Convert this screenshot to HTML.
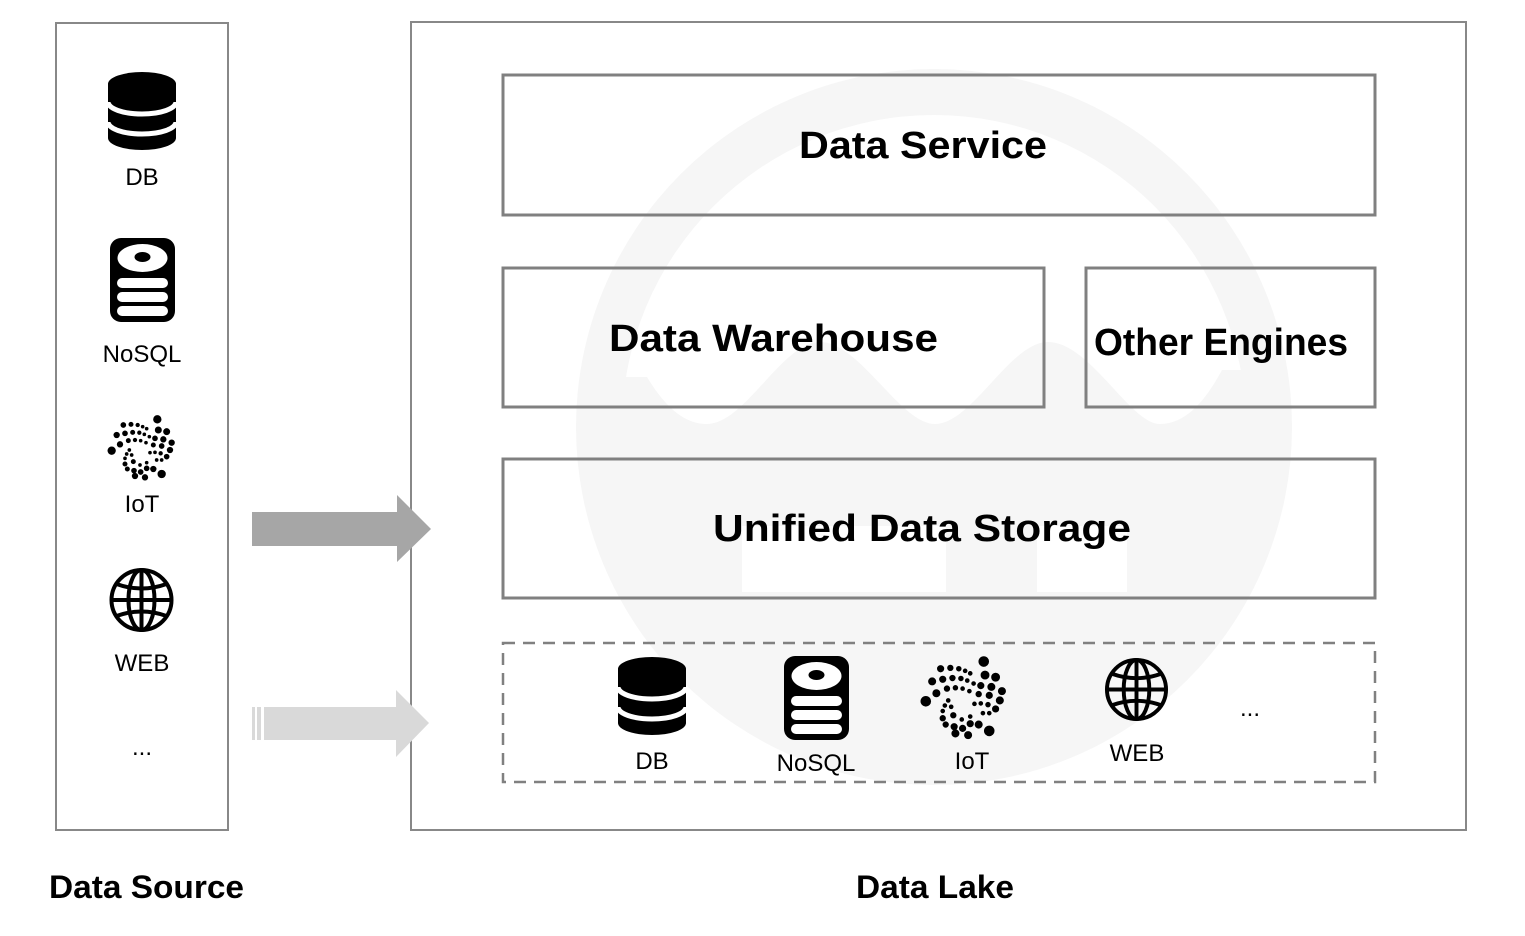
<!DOCTYPE html>
<html><head><meta charset="utf-8"><style>html,body{margin:0;padding:0;background:#fff}svg{display:block}</style></head>
<body>
<svg width="1525" height="936" viewBox="0 0 1525 936" xmlns="http://www.w3.org/2000/svg">
<defs>
<symbol id="db" viewBox="0 0 68 78">
<path d="M0,12 A34,12 0 0 1 68,12 V66 A34,12 0 0 1 0,66 Z" fill="#000"/>
<path d="M0,30 A34,12 0 0 0 68,30" stroke="#fff" stroke-width="5" fill="none"/>
<path d="M0,50 A34,12 0 0 0 68,50" stroke="#fff" stroke-width="5" fill="none"/>
</symbol>
<symbol id="nosql" viewBox="0 0 65 84">
<rect x="0" y="0" width="65" height="84" rx="11" fill="#000"/>
<ellipse cx="32.5" cy="20" rx="25" ry="14" fill="#fff"/>
<ellipse cx="32.5" cy="19" rx="8" ry="5" fill="#000"/>
<rect x="7" y="40" width="51" height="10" rx="5" fill="#fff"/>
<rect x="7" y="54" width="51" height="10" rx="5" fill="#fff"/>
<rect x="7" y="68" width="51" height="10" rx="5" fill="#fff"/>
</symbol>
<symbol id="globe" viewBox="0 0 66 66">
<g fill="none" stroke="#000" stroke-width="4">
<circle cx="33" cy="33" r="30"/>
<ellipse cx="33" cy="33" rx="13" ry="30"/>
<line x1="33" y1="3" x2="33" y2="63"/>
<line x1="3" y1="33" x2="63" y2="33"/>
<path d="M8,17 Q33,26 58,17"/>
<path d="M8,49 Q33,40 58,49"/>
</g>
</symbol>
<g id="iot" fill="#000" stroke="#000" stroke-width="3">
<circle cx="172" cy="58" r="11"/><circle cx="70" cy="75" r="7"/><circle cx="93" cy="73" r="6"/><circle cx="113" cy="75" r="5"/><circle cx="128" cy="80" r="4"/><circle cx="140" cy="86" r="4"/><circle cx="175" cy="90" r="9"/><circle cx="200" cy="95" r="9"/><circle cx="50" cy="105" r="8"/><circle cx="75" cy="100" r="7"/><circle cx="98" cy="97" r="6"/><circle cx="118" cy="98" r="5"/><circle cx="133" cy="103" r="4"/><circle cx="148" cy="110" r="4"/><circle cx="165" cy="115" r="7"/><circle cx="190" cy="118" r="8"/><circle cx="215" cy="128" r="8"/><circle cx="35" cy="152" r="11"/><circle cx="60" cy="133" r="8"/><circle cx="85" cy="122" r="6"/><circle cx="105" cy="120" r="5"/><circle cx="122" cy="122" r="4"/><circle cx="138" cy="128" r="4"/><circle cx="160" cy="135" r="6"/><circle cx="185" cy="138" r="7"/><circle cx="210" cy="150" r="8"/><circle cx="88" cy="150" r="4"/><circle cx="80" cy="162" r="4"/><circle cx="75" cy="175" r="4"/><circle cx="150" cy="158" r="4"/><circle cx="165" cy="157" r="4"/><circle cx="182" cy="160" r="5"/><circle cx="200" cy="170" r="7"/><circle cx="95" cy="165" r="4"/><circle cx="100" cy="185" r="6"/><circle cx="75" cy="192" r="6"/><circle cx="170" cy="180" r="4"/><circle cx="185" cy="180" r="4"/><circle cx="82" cy="207" r="6"/><circle cx="102" cy="212" r="7"/><circle cx="122" cy="216" r="7"/><circle cx="140" cy="205" r="7"/><circle cx="160" cy="207" r="8"/><circle cx="105" cy="228" r="8"/><circle cx="135" cy="232" r="8"/><circle cx="185" cy="222" r="11"/><circle cx="120" cy="195" r="4"/><circle cx="140" cy="188" r="4"/>
</g>
<clipPath id="inner"><circle cx="934" cy="427" r="312"/></clipPath>
</defs>

<circle cx="934" cy="427" r="358" fill="#f6f6f6"/>
<path clip-path="url(#inner)" fill="#fff" d="M560,377 L647,377 C670,415 690,424 707,424 C745,424 782,342 820,342 C860,342 900,424 935,424 C972,424 1010,342 1048,342 C1090,342 1130,424 1160,424 C1190,424 1210,392 1222,370 L1320,370 L1320,0 L560,0 Z"/>
<rect x="742" y="526" width="204" height="66" fill="#fff"/>
<rect x="1037" y="526" width="90" height="66" fill="#fff"/>

<rect x="56" y="23" width="172" height="807" fill="none" stroke="#888" stroke-width="2"/>
<rect x="411" y="22" width="1055" height="808" fill="none" stroke="#888" stroke-width="2"/>

<g fill="none" stroke="#808080" stroke-width="3">
<rect x="503" y="75" width="872" height="140"/>
<rect x="503" y="268" width="541" height="139"/>
<rect x="1086" y="268" width="289" height="139"/>
<rect x="503" y="459" width="872" height="139"/>
<rect x="503" y="643" width="872" height="139" stroke-dasharray="12,8" stroke-width="2.5"/>
</g>

<g font-family="Liberation Sans, sans-serif" font-weight="bold" font-size="38" fill="#000">
<text x="799" y="158" textLength="248" lengthAdjust="spacingAndGlyphs">Data Service</text>
<text x="609" y="351" textLength="329" lengthAdjust="spacingAndGlyphs">Data Warehouse</text>
<text x="1094" y="355" textLength="254" lengthAdjust="spacingAndGlyphs">Other Engines</text>
<text x="713" y="541" textLength="418" lengthAdjust="spacingAndGlyphs">Unified Data Storage</text>
</g>

<path d="M252,512 H397 V495 L431,529 L397,562 V546 H252 Z" fill="#a6a6a6"/>
<path d="M264,707 H396 V690 L429,723 L396,757 V740 H264 Z" fill="#d9d9d9"/>
<rect x="252" y="707" width="3" height="33" fill="#d9d9d9"/>
<rect x="257" y="707" width="4" height="33" fill="#d9d9d9"/>

<use href="#db" x="108" y="72" width="68" height="78"/>
<use href="#nosql" x="110" y="238" width="65" height="84"/>
<g transform="translate(100,400) scale(0.3333)"><use href="#iot"/></g>
<use href="#globe" x="108" y="567" width="67" height="66"/>

<use href="#db" x="617" y="657" width="70" height="78"/>
<use href="#nosql" x="784" y="656" width="65" height="84"/>
<g transform="translate(911,637) scale(0.423)"><use href="#iot"/></g>
<use href="#globe" x="1104" y="657" width="65" height="65"/>

<g font-family="Liberation Sans, sans-serif" font-size="24" fill="#000" text-anchor="middle">
<text x="142" y="185">DB</text>
<text x="142" y="362">NoSQL</text>
<text x="142" y="512">IoT</text>
<text x="142" y="671">WEB</text>
<text x="142" y="755">...</text>
<text x="652" y="769">DB</text>
<text x="816" y="771">NoSQL</text>
<text x="972" y="769">IoT</text>
<text x="1137" y="761">WEB</text>
<text x="1250" y="716">...</text>
</g>

<g font-family="Liberation Sans, sans-serif" font-weight="bold" font-size="32" fill="#000">
<text x="49" y="898" textLength="195" lengthAdjust="spacingAndGlyphs">Data Source</text>
<text x="856" y="898" textLength="158" lengthAdjust="spacingAndGlyphs">Data Lake</text>
</g>
</svg>
</body></html>
